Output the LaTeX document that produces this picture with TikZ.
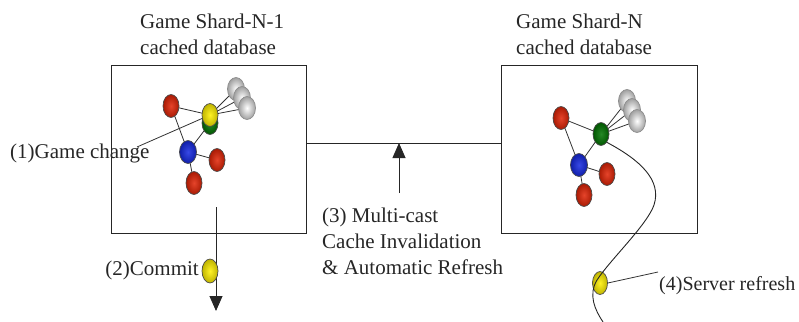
\documentclass[tikz,border=0pt]{standalone}
\usepackage{fontspec}
\setmainfont{Liberation Serif}
\usetikzlibrary{arrows.meta,shapes.geometric}
\definecolor{mred}{RGB}{225,35,5}
\definecolor{mblue}{RGB}{20,40,225}
\definecolor{mgreen}{RGB}{0,115,0}
\definecolor{myellow}{RGB}{255,240,0}
\definecolor{mgray}{RGB}{200,200,200}
\tikzset{
  box/.style={draw=black!85, line width=0.9pt, rectangle, inner sep=0, fill=white},
  ball/.style={ellipse, draw=black!70, line width=0.7pt, minimum width=16, minimum height=23, inner sep=0,
    inner color=#1!85!white, outer color=#1!75!black},
  gball/.style={ellipse, draw=black!45, line width=0.7pt, minimum width=17, minimum height=23, inner sep=0,
    inner color=white, outer color=mgray!80!black},
  lbl/.style={font=\fontsize{21}{26}\selectfont, inner sep=0, text=black!85},
  bond/.style={draw=black!80, line width=0.8pt},
  wire/.style={draw=black!85, line width=0.9pt},
  tip/.style={-{Triangle[length=15pt,width=13pt]}}
}
\begin{document}
\begin{tikzpicture}[x=1pt,y=-1pt]
\useasboundingbox (0,0) rectangle (799,321);

% boxes
\node[box, minimum width=195, minimum height=168] (b1) at (208.5,149) {};
\node[box, minimum width=196, minimum height=168] (b2) at (599,149) {};

% titles
\node[lbl, anchor=base west] (t1a) at (140,29) {Game Shard-N-1};
\node[lbl, anchor=base west] (t1b) at (140,55) {cached database};
\node[lbl, anchor=base west] (t2a) at (516,29) {Game Shard-N};
\node[lbl, anchor=base west] (t2b) at (516,55) {cached database};

% multicast connector
\coordinate (m1) at (306,143);
\coordinate (m2) at (501,143);
\draw[wire] (m1) -- (m2);
\coordinate (mu) at (399,143);
\coordinate (ml) at (399,193);
\draw[wire, tip] (ml) -- (mu);
\node[lbl, anchor=base west] (c1) at (322,222) {(3) Multi-cast};
\node[lbl, anchor=base west] (c2) at (322,248) {Cache Invalidation};
\node[lbl, anchor=base west] (c3) at (322,274) {\& Automatic Refresh};

% ---- box 1 molecule
\coordinate (r1p) at (171,106);
\coordinate (y1p) at (210,115);
\coordinate (gr1p) at (210,123);
\coordinate (bl1p) at (188,152);
\coordinate (rr1p) at (217,160);
\coordinate (rb1p) at (194,183);
\coordinate (ga1p) at (236,89);
\coordinate (gb1p) at (242,98);
\coordinate (gc1p) at (247,108);
\node[lbl, anchor=base west] (gc) at (10,158) {(1)Game change};
\coordinate (gcl) at (137,147);
\draw[bond] (gcl) -- (y1p);
\draw[bond] (r1p) -- (y1p);
\draw[bond] (r1p) -- (bl1p);
\draw[bond] (gr1p) -- (bl1p);
\draw[bond] (y1p) -- (ga1p);
\draw[bond] (y1p) -- (gb1p);
\draw[bond] (y1p) -- (gc1p);
\draw[bond] (bl1p) -- (rr1p);
\draw[bond] (bl1p) -- (rb1p);
\node[gball] (ga1) at (ga1p) {};
\node[gball] (gb1) at (gb1p) {};
\node[gball] (gc1) at (gc1p) {};
\node[ball=mgreen] (gr1) at (gr1p) {};
\node[ball=myellow] (y1) at (y1p) {};
\node[ball=mred] (r1) at (r1p) {};
\node[ball=mblue, minimum width=17] (bl1) at (bl1p) {};
\node[ball=mred] (rr1) at (rr1p) {};
\node[ball=mred] (rb1) at (rb1p) {};

% commit
\coordinate (cs) at (216,207);
\coordinate (ce) at (216,311);
\draw[wire, tip] (cs) -- (ce);
\node[ball=myellow, minimum width=16, minimum height=24] (cy) at (210,271) {};
\node[lbl, anchor=base east] (cm) at (199,275) {(2)Commit};

% ---- box 2 molecule
\coordinate (r2p) at (561,118);
\coordinate (g2p) at (601,134);
\coordinate (bl2p) at (579,165);
\coordinate (rr2p) at (607,174);
\coordinate (rb2p) at (584,195);
\coordinate (ga2p) at (627,101);
\coordinate (gb2p) at (632,110);
\coordinate (gc2p) at (637,121);
\draw[bond] (r2p) -- (g2p);
\draw[bond] (r2p) -- (bl2p);
\draw[bond] (g2p) -- (bl2p);
\draw[bond] (g2p) -- (ga2p);
\draw[bond] (g2p) -- (gb2p);
\draw[bond] (g2p) -- (gc2p);
\draw[bond] (bl2p) -- (rr2p);
\draw[bond] (bl2p) -- (rb2p);
\node[gball] (ga2) at (ga2p) {};
\node[gball] (gb2) at (gb2p) {};
\node[gball] (gc2) at (gc2p) {};
\node[ball=mgreen] (g2) at (g2p) {};
\node[ball=mred] (r2) at (r2p) {};
\node[ball=mblue, minimum width=17] (bl2) at (bl2p) {};
\node[ball=mred] (rr2) at (rr2p) {};
\node[ball=mred] (rb2) at (rb2p) {};

% server refresh
\node[ball=myellow, minimum width=15, minimum height=23] (sy) at (600,283) {};
\draw[wire] (g2.south east) .. controls (640,160) and (662,180) .. (654,205)
  .. controls (647,225) and (610,260) .. (597,280)
  .. controls (588,295) and (595,310) .. (603,322);
\node[lbl, font=\fontsize{20}{26}\selectfont, anchor=base west] (sr) at (659,290) {(4)Server refresh};
\coordinate (srl) at (658,272);
\draw[bond] (sy.east) -- (srl);
\end{tikzpicture}
\end{document}
